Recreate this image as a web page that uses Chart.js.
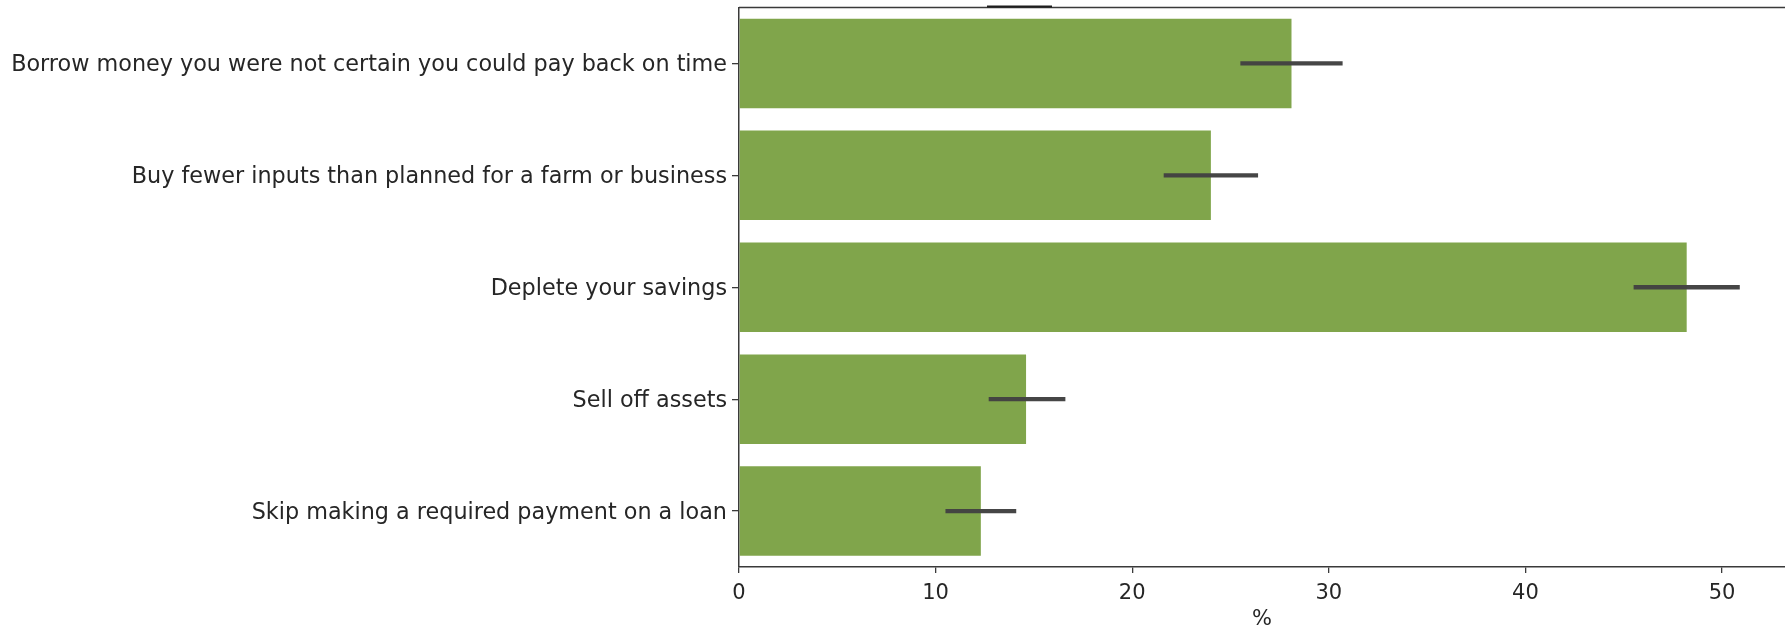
<!DOCTYPE html>
<html>
<head>
<meta charset="utf-8">
<script src="https://cdn.jsdelivr.net/npm/chart.js@4"></script>
<style>
  html, body { margin: 0; padding: 0; background: #ffffff; }
  #wrap { position: relative; width: 1785px; height: 628px; }
</style>
</head>
<body>
<div id="wrap"><canvas id="chart" width="1785" height="628"></canvas></div>
<script>
// Coping strategies (share of respondents, %) with confidence intervals
const categories = [
  'Borrow money you were not certain you could pay back on time',
  'Buy fewer inputs than planned for a farm or business',
  'Deplete your savings',
  'Sell off assets',
  'Skip making a required payment on a loan'
];
const shares   = [28.1, 24.0, 48.2, 14.6, 12.3];
const ciLow    = [25.5, 21.6, 45.5, 12.7, 10.5];
const ciHigh   = [30.7, 26.4, 50.9, 16.6, 14.1];
const xTicks   = [0, 10, 20, 30, 40, 50];
const xMax     = 53.2;
const xTitle   = '%';

const FONT = 'DejaVu Sans';
const TEXT = '#262626';
const SPINE = '#3a3a3a';

// Horizontal confidence-interval lines drawn through the bar centres
const ciPlugin = {
  id: 'ciLines',
  afterDatasetsDraw(chart) {
    const { ctx, scales: { x, y } } = chart;
    ctx.save();
    ctx.strokeStyle = 'rgba(66,66,66,0.98)';
    ctx.lineWidth = 4.3;
    ctx.lineCap = 'butt';
    categories.forEach((c, i) => {
      const yc = y.getPixelForValue(i);
      ctx.beginPath();
      ctx.moveTo(x.getPixelForValue(ciLow[i]), yc);
      ctx.lineTo(x.getPixelForValue(ciHigh[i]), yc);
      ctx.stroke();
    });
    ctx.restore();
  }
};

// Top spine of the axes frame, with the short dark stroke resting on it
const framePlugin = {
  id: 'frameTop',
  afterDraw(chart) {
    const { ctx, chartArea } = chart;
    ctx.save();
    ctx.strokeStyle = SPINE;
    ctx.lineWidth = 1.5;
    ctx.beginPath();
    ctx.moveTo(chartArea.left, chartArea.top);
    ctx.lineTo(chartArea.right, chartArea.top);
    ctx.stroke();
    ctx.strokeStyle = '#1e1e1e';
    ctx.lineWidth = 2;
    ctx.beginPath();
    ctx.moveTo(987, chartArea.top - 1);
    ctx.lineTo(1052, chartArea.top - 1);
    ctx.stroke();
    ctx.restore();
  }
};

new Chart(document.getElementById('chart'), {
  type: 'bar',
  data: {
    labels: categories,
    datasets: [{
      data: shares,
      backgroundColor: 'rgb(128,165,75)',
      borderWidth: 0,
      barPercentage: 0.8,
      categoryPercentage: 1.0
    }]
  },
  options: {
    indexAxis: 'y',
    responsive: false,
    animation: false,
    devicePixelRatio: 1,
    layout: { padding: { top: 7.5, right: 0, left: 0, bottom: 0 } },
    plugins: {
      legend: { display: false },
      tooltip: { enabled: false }
    },
    scales: {
      x: {
        type: 'linear',
        min: 0,
        max: xMax,
        afterBuildTicks(scale) { scale.ticks = xTicks.map(v => ({ value: v })); },
        afterFit(scale) { scale.height = 61; },
        grid: {
          display: true,
          drawOnChartArea: false,
          drawTicks: true,
          tickLength: 6,
          tickColor: SPINE,
          lineWidth: 1.3
        },
        border: { display: true, color: SPINE, width: 1.5 },
        ticks: {
          font: { family: FONT, size: 21 },
          color: TEXT,
          padding: 7.5,
          maxRotation: 0
        },
        title: {
          display: true,
          text: xTitle,
          font: { family: FONT, size: 21, lineHeight: 0.8 },
          color: TEXT,
          padding: { top: 0, bottom: 0 }
        }
      },
      y: {
        type: 'category',
        offset: true,
        afterFit(scale) {
          scale.width = 739;
          scale.paddingTop = 0;
          scale.paddingBottom = 0;
        },
        grid: {
          display: true,
          drawOnChartArea: false,
          drawTicks: true,
          tickLength: 7,
          tickColor: SPINE,
          lineWidth: 1.3,
          offset: false
        },
        border: { display: true, color: SPINE, width: 1.5 },
        ticks: {
          font: { family: FONT, size: 22.3 },
          color: TEXT,
          padding: 5,
          labelOffset: 2,
          autoSkip: false
        }
      }
    }
  },
  plugins: [ciPlugin, framePlugin]
});
</script>
</body>
</html>
